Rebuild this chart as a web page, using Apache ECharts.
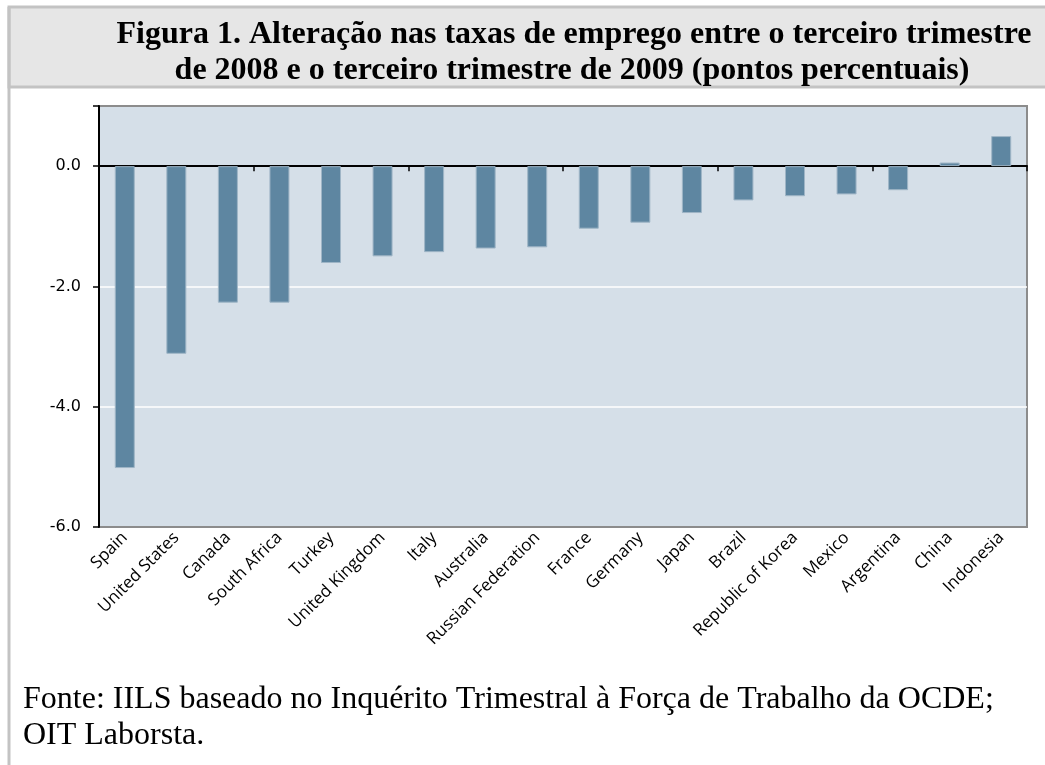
<!DOCTYPE html>
<html>
<head>
<meta charset="utf-8">
<script src="https://cdn.jsdelivr.net/npm/echarts@6/dist/echarts.min.js"></script>
<style>html,body{margin:0;padding:0;background:#fff}#c{width:1045px;height:765px}</style>
</head>
<body>
<div id="c"></div>
<script>
const categories = ['Spain','United States','Canada','South Africa','Turkey','United Kingdom','Italy','Australia','Russian Federation','France','Germany','Japan','Brazil','Republic of Korea','Mexico','Argentina','China','Indonesia'];
const values = [-5.02,-3.12,-2.27,-2.27,-1.61,-1.50,-1.43,-1.37,-1.35,-1.04,-0.94,-0.78,-0.57,-0.50,-0.47,-0.40,0.06,0.50];
const titleLines = ['Figura 1. Alteração nas taxas de emprego entre o terceiro trimestre','de 2008 e o terceiro trimestre de 2009 (pontos percentuais)'];
const sourceLines = ['Fonte: IILS baseado no Inquérito Trimestral à Força de Trabalho da OCDE;','OIT Laborsta.'];
const yMin = -6, yMax = 1, yStep = 2;

const chart = echarts.init(document.getElementById('c'), null, {renderer:'canvas'});
const labelFont = '"Open Sans", Lato, sans-serif';
const serifBold = 'bold 32px "Liberation Serif", "Times New Roman", serif';
const serif = '32px "Liberation Serif", "Times New Roman", serif';
chart.setOption({
  backgroundColor:'#ffffff',
  animation:false,
  graphic:[
    {type:'rect', z:0, shape:{x:9, y:7, width:1045, height:80}, style:{fill:'#E6E6E6', stroke:'#C3C3C3', lineWidth:3}},
    {type:'line', z:1, shape:{x1:9, y1:7, x2:9, y2:765}, style:{stroke:'#C3C3C3', lineWidth:3}},
    {type:'text', z:2, x:574, y:35, style:{text:titleLines[0], font:serifBold, fill:'#000', textAlign:'center', textVerticalAlign:'middle'}},
    {type:'text', z:2, x:572, y:71, style:{text:titleLines[1], font:serifBold, fill:'#000', textAlign:'center', textVerticalAlign:'middle'}},
    {type:'text', z:2, x:23, y:700, style:{text:sourceLines[0], font:serif, fill:'#000', textAlign:'left', textVerticalAlign:'middle'}},
    {type:'text', z:2, x:23, y:736, style:{text:sourceLines[1], font:serif, fill:'#000', textAlign:'left', textVerticalAlign:'middle'}}
  ],
  grid:{left:99, right:18, top:106, bottom:238, show:true, backgroundColor:'#D5DFE8', borderColor:'#8C8C8C', borderWidth:2},
  xAxis:[
    {type:'category', data:categories, position:'bottom',
      axisLine:{show:true, onZero:true, lineStyle:{color:'#000', width:2}},
      axisTick:{show:true, length:5, lineStyle:{color:'#000', width:1.5}},
      axisLabel:{show:false}, splitLine:{show:false}},
    {type:'category', data:categories, position:'bottom',
      axisLine:{show:false, onZero:false}, axisTick:{show:false},
      axisLabel:{show:true, rotate:45, margin:8, interval:0, fontSize:17, fontFamily:labelFont, color:'#000'},
      splitLine:{show:false}}
  ],
  yAxis:{type:'value', min:yMin, max:yMax, interval:yStep,
    axisLine:{show:true, lineStyle:{color:'#000', width:2}},
    axisTick:{show:true, length:6, lineStyle:{color:'#000', width:1.5}},
    axisLabel:{fontSize:16, fontFamily:'"DejaVu Sans", sans-serif', color:'#000', margin:18,
      formatter:function(v){return v===yMax ? '' : v.toFixed(1);}},
    splitLine:{show:true, lineStyle:{color:['#8C8C8C','#FFFFFF','#FFFFFF','#000000','#8C8C8C'], width:1.5}}
  },
  series:[{type:'bar', xAxisIndex:0, data:values, barWidth:20,
    itemStyle:{color:'#5E86A1', borderColor:'#9FB5C6', borderWidth:1}}]
});
</script>
</body>
</html>
